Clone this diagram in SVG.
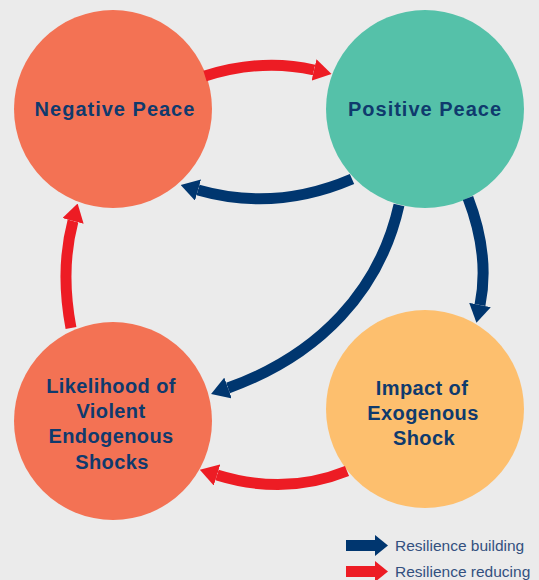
<svg xmlns="http://www.w3.org/2000/svg" width="539" height="580" viewBox="0 0 539 580">
  <style>
    .lbl { font-family: "Liberation Sans", Arial, sans-serif; font-weight: bold; font-size: 20px; fill: #0f3a6d; text-anchor: middle; }
    .wide { letter-spacing: 1px; }
    .narrow { letter-spacing: 0.4px; }
    .leg { font-family: "Liberation Sans", Arial, sans-serif; font-size: 15.5px; fill: #33507f; }
    .navy { fill: none; stroke: #00366f; stroke-width: 11; }
    .red { fill: none; stroke: #ed1c24; stroke-width: 11; }
  </style>
  <defs>
    <marker id="headNavy" viewBox="0 0 18 22" refX="0" refY="11" markerWidth="18" markerHeight="22" markerUnits="userSpaceOnUse" orient="auto">
      <path d="M0,0 L18,11 L0,22 Z" fill="#00366f"/>
    </marker>
    <marker id="headRed" viewBox="0 0 18 22" refX="0" refY="11" markerWidth="18" markerHeight="22" markerUnits="userSpaceOnUse" orient="auto">
      <path d="M0,0 L18,11 L0,22 Z" fill="#ed1c24"/>
    </marker>
  </defs>
  <rect x="0" y="0" width="539" height="580" fill="#ebebeb"/>

  <g id="negative-peace">
    <circle cx="113" cy="109" r="99" fill="#f37254"/>
    <text class="lbl wide" x="115" y="116">Negative Peace</text>
  </g>
  <g id="positive-peace">
    <circle cx="425" cy="109" r="99" fill="#55c1a9"/>
    <text class="lbl wide" x="425" y="116">Positive Peace</text>
  </g>
  <g id="likelihood">
    <circle cx="113" cy="421" r="99" fill="#f37254"/>
    <text class="lbl narrow" x="111" y="392.5">Likelihood of</text>
    <text class="lbl narrow" x="111" y="418">Violent</text>
    <text class="lbl narrow" x="111" y="443">Endogenous</text>
    <text class="lbl narrow" x="112" y="468.5">Shocks</text>
  </g>
  <g id="impact">
    <circle cx="425" cy="409" r="99" fill="#fdbf6e"/>
    <text class="lbl narrow" x="422" y="395">Impact of</text>
    <text class="lbl narrow" x="423" y="420">Exogenous</text>
    <text class="lbl narrow" x="424" y="445">Shock</text>
  </g>

  <g id="connectors">
    <path class="red" d="M205 76 Q262 58 314 70" marker-end="url(#headRed)"/>
    <path class="navy" d="M352 179 Q275 212 198 190" marker-end="url(#headNavy)"/>
    <path class="navy" d="M468 198 Q490 255 480 305" marker-end="url(#headNavy)"/>
    <path class="navy" d="M399 205 C380 290 320 355 228 388" marker-end="url(#headNavy)"/>
    <path class="red" d="M347 471 Q285 496 217 475" marker-end="url(#headRed)"/>
    <path class="red" d="M71 328 Q60 270 73 221" marker-end="url(#headRed)"/>
  </g>

  <g id="legend">
    <rect x="346" y="540" width="30" height="11" fill="#00366f"/>
    <polygon points="375,535 388,545.5 375,556" fill="#00366f"/>
    <text class="leg" x="395" y="551">Resilience building</text>
    <rect x="346" y="566" width="30" height="11" fill="#ed1c24"/>
    <polygon points="375,561 388,571.5 375,582" fill="#ed1c24"/>
    <text class="leg" x="395" y="577">Resilience reducing</text>
  </g>
</svg>
